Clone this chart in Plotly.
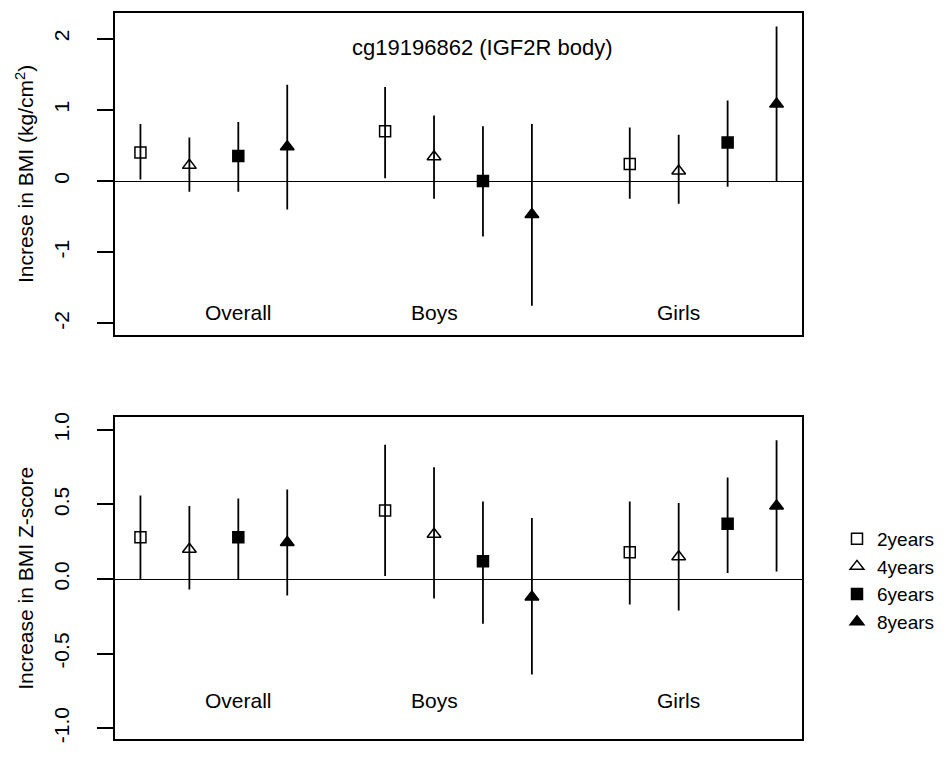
import plotly.graph_objects as go

# ---- data ----
groups = ["Overall", "Boys", "Girls"]
series = ["2years", "4years", "6years", "8years"]
symbols = ["square-open", "triangle-up-open", "square", "triangle-up"]

# top panel: increase in BMI (kg/cm2); per series, values for Overall, Boys, Girls
bmi_est = {
    "2years": [0.40, 0.70, 0.24],
    "4years": [0.22, 0.34, 0.14],
    "6years": [0.35, 0.00, 0.54],
    "8years": [0.48, -0.47, 1.08],
}
bmi_lo = {
    "2years": [0.02, 0.04, -0.25],
    "4years": [-0.15, -0.25, -0.32],
    "6years": [-0.15, -0.78, -0.08],
    "8years": [-0.40, -1.75, 0.00],
}
bmi_hi = {
    "2years": [0.80, 1.32, 0.75],
    "4years": [0.61, 0.92, 0.65],
    "6years": [0.83, 0.77, 1.13],
    "8years": [1.35, 0.80, 2.17],
}

# bottom panel: increase in BMI Z-score
z_est = {
    "2years": [0.28, 0.46, 0.18],
    "4years": [0.20, 0.30, 0.15],
    "6years": [0.28, 0.12, 0.37],
    "8years": [0.245, -0.12, 0.49],
}
z_lo = {
    "2years": [0.00, 0.02, -0.17],
    "4years": [-0.07, -0.13, -0.21],
    "6years": [0.00, -0.30, 0.04],
    "8years": [-0.11, -0.64, 0.05],
}
z_hi = {
    "2years": [0.56, 0.90, 0.52],
    "4years": [0.49, 0.75, 0.51],
    "6years": [0.54, 0.52, 0.68],
    "8years": [0.60, 0.41, 0.93],
}

top_tickvals = [-2, -1, 0, 1, 2]
top_ticktext = ["-2", "-1", "0", "1", "2"]
bot_tickvals = [-1.0, -0.5, 0.0, 0.5, 1.0]
bot_ticktext = ["-1.0", "-0.5", "0.0", "0.5", "1.0"]

title_text = "cg19196862 (IGF2R body)"
top_ylabel = "Increse in BMI (kg/cm<sup>2</sup>)"
bot_ylabel = "Increase in BMI Z-score"

FONT = "Arial, Liberation Sans, sans-serif"
W, H = 948, 757

fig = go.Figure()

def positions(s_idx):
    return [g * 5 + s_idx + 1 for g in range(len(groups))]

for panel, (est, lo, hi, xa, ya) in enumerate([
        (bmi_est, bmi_lo, bmi_hi, "x", "y"),
        (z_est, z_lo, z_hi, "x2", "y2")]):
    for si, s in enumerate(series):
        e = est[s]
        plus = [h - v for h, v in zip(hi[s], e)]
        minus = [v - l for v, l in zip(e, lo[s])]
        tri = "triangle" in symbols[si]
        fig.add_trace(go.Scatter(
            x=positions(si), y=e, mode="markers",
            name=s, legendgroup=s, showlegend=(panel == 0),
            xaxis=xa, yaxis=ya,
            marker=dict(symbol=symbols[si], color="black",
                        size=12 if tri else 11,
                        line=dict(color="black", width=1.5)),
            error_y=dict(type="data", symmetric=False, array=plus,
                         arrayminus=minus, color="black", thickness=1.8,
                         width=0),
        ))

def px_x(p):
    return p / W

def px_y(p):
    return 1 - p / H

xdom = [px_x(115), px_x(802)]
common_x = dict(range=[0.48, 14.52], showticklabels=False, ticks="",
                showgrid=False, zeroline=False, showline=True,
                linecolor="black", linewidth=1.8, mirror=True)
common_y = dict(showgrid=False, zeroline=True, zerolinecolor="black",
                zerolinewidth=1.3, showline=True, linecolor="black",
                linewidth=1.8, mirror=True, ticks="outside", ticklen=16,
                tickwidth=1.6, tickcolor="black", tickangle=-90,
                tickfont=dict(family=FONT, size=21, color="black"),
                ticklabelstandoff=20)

fig.update_layout(
    width=W, height=H,
    margin=dict(l=0, r=0, t=0, b=0),
    paper_bgcolor="white", plot_bgcolor="white",
    font=dict(family=FONT, size=21, color="black"),
    xaxis=dict(domain=xdom, anchor="y", **common_x),
    yaxis=dict(domain=[px_y(333.7), px_y(8.3)], anchor="x",
               range=[-2.158, 2.356], tickvals=top_tickvals,
               ticktext=top_ticktext,
               title=dict(text=top_ylabel, standoff=10,
                          font=dict(family=FONT, size=21)),
               **common_y),
    xaxis2=dict(domain=xdom, anchor="y2", **common_x),
    yaxis2=dict(domain=[px_y(743.3), px_y(417.3)], anchor="x2",
                range=[-1.075, 1.084], tickvals=bot_tickvals,
                ticktext=bot_ticktext,
                title=dict(text=bot_ylabel, standoff=10,
                           font=dict(family=FONT, size=21)),
                **common_y),
    legend=dict(x=px_x(837), y=px_y(521), xanchor="left", yanchor="top",
                font=dict(family=FONT, size=19, color="black"),
                bgcolor="rgba(0,0,0,0)", borderwidth=0,
                tracegroupgap=0),
    showlegend=True,
)

annotations = []
label_x = [3, 7, 12]
for gx, g in zip(label_x, groups):
    annotations.append(dict(x=gx, y=-1.84, xref="x", yref="y", text=g,
                            showarrow=False, font=dict(family=FONT, size=21)))
    annotations.append(dict(x=gx, y=-0.815, xref="x2", yref="y2", text=g,
                            showarrow=False, font=dict(family=FONT, size=21)))
annotations.append(dict(x=8, y=1.875, xref="x", yref="y", text=title_text,
                        showarrow=False, font=dict(family=FONT, size=22)))
fig.update_layout(annotations=annotations)

fig.write_html("out.html")
